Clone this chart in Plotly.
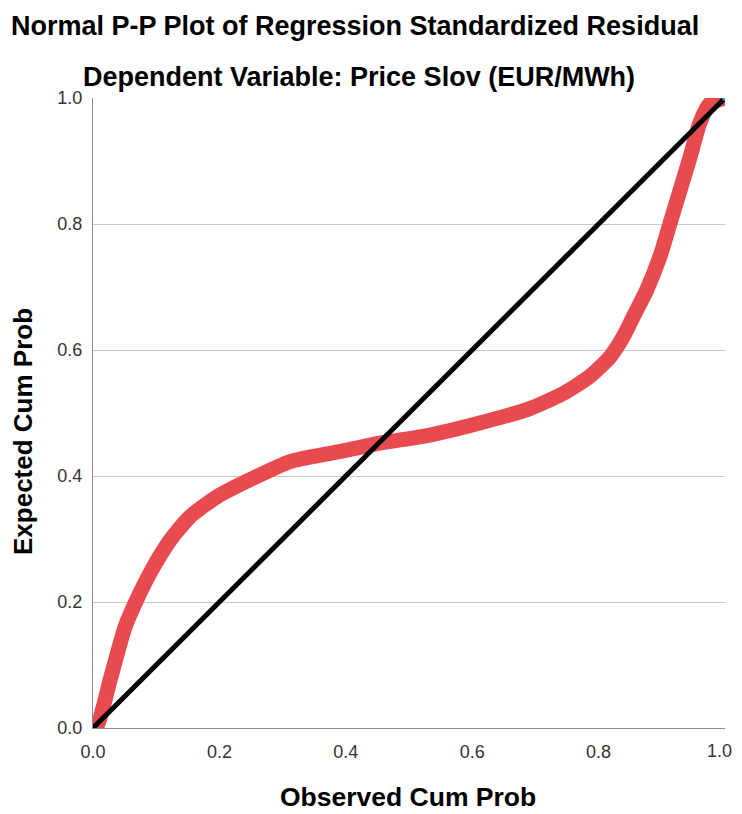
import plotly.graph_objects as go

# Observed vs expected cumulative probability
observed = [0.0, 0.008, 0.027, 0.051, 0.074, 0.093, 0.122, 0.153, 0.196, 0.248, 0.312,
            0.375, 0.401, 0.454, 0.533, 0.612, 0.691, 0.744, 0.786, 0.818, 0.839,
            0.855, 0.876, 0.897, 0.913, 0.929, 0.945, 0.960, 0.976, 1.0]
expected = [0.0, 0.007, 0.076, 0.161, 0.214, 0.251, 0.298, 0.335, 0.367, 0.394, 0.423,
            0.436, 0.441, 0.452, 0.465, 0.484, 0.507, 0.531, 0.558, 0.589, 0.621,
            0.653, 0.695, 0.748, 0.801, 0.854, 0.907, 0.960, 0.991, 1.0]
ref_x = [0.0, 1.0]
ref_y = [0.0, 1.0]
ticks = [0.0, 0.2, 0.4, 0.6, 0.8, 1.0]
x_tick_text = ["0.0", "0.2", "0.4", "0.6", "0.8", ""]   # last label drawn separately
last_x_label = "1.0"

FONT = "Liberation Sans, Arial, sans-serif"

fig = go.Figure()
fig.add_trace(go.Scatter(x=observed, y=expected, mode="lines",
                         line=dict(color="#E84B4F", width=15, shape="spline", smoothing=0.6),
                         showlegend=False, hoverinfo="x+y"))
fig.add_trace(go.Scatter(x=ref_x, y=ref_y, mode="lines",
                         line=dict(color="#000000", width=5),
                         showlegend=False, hoverinfo="skip"))
fig.add_trace(go.Scatter(x=[observed[-1]], y=[expected[-1]], mode="markers",
                         marker=dict(color="#3A8FD9", size=6),
                         showlegend=False, hoverinfo="skip"))

fig.update_layout(
    width=742, height=814,
    margin=dict(l=85, r=25, t=90, b=94),
    paper_bgcolor="white", plot_bgcolor="white",
    font=dict(family=FONT, color="#000000"),
    annotations=[
        dict(text="<b>Normal P-P Plot of Regression Standardized Residual</b>",
             x=(355 - 93) / 632, xref="paper", xanchor="center", y=1, yref="paper",
             yanchor="middle", yshift=72, showarrow=False,
             font=dict(size=27, family=FONT, color="#000")),
        dict(text="<b>Dependent Variable: Price Slov (EUR/MWh)</b>",
             x=(359 - 93) / 632, xref="paper", xanchor="center", y=1, yref="paper",
             yanchor="middle", yshift=21, showarrow=False,
             font=dict(size=27, family=FONT, color="#000")),
        dict(text="<b>Observed Cum Prob</b>",
             x=(408 - 93) / 632, xref="paper", xanchor="center", y=0, yref="paper",
             yanchor="middle", yshift=-69, showarrow=False,
             font=dict(size=26.5, family=FONT, color="#000")),
        dict(text="<b>Expected Cum Prob</b>", textangle=-90,
             x=0, xref="paper", xanchor="center", xshift=-70, borderpad=0,
             y=(728 - 432) / 630, yref="paper", yanchor="middle", showarrow=False,
             font=dict(size=26, family=FONT, color="#000")),
        dict(text=last_x_label, x=ticks[-1], xref="x", xanchor="right", xshift=8,
             y=0, yref="paper", yanchor="middle", yshift=-23, showarrow=False,
             borderpad=0, font=dict(size=18, family=FONT, color="#333")),
    ],
    xaxis=dict(range=[0, 1], tickvals=ticks, ticktext=x_tick_text, showgrid=False,
               showline=True, linecolor="#8c8c8c", linewidth=1, zeroline=False,
               ticks="", ticklabelstandoff=7, tickfont=dict(size=18, color="#333")),
    yaxis=dict(range=[0, 1], tickvals=ticks, tickformat=".1f", showgrid=True,
               gridcolor="#c8c8c8", gridwidth=1,
               showline=True, linecolor="#8c8c8c", linewidth=1, zeroline=False,
               ticks="", ticklabelstandoff=6, tickfont=dict(size=18, color="#333")),
)

fig.write_html("out.html", default_width="742px", default_height="814px")
